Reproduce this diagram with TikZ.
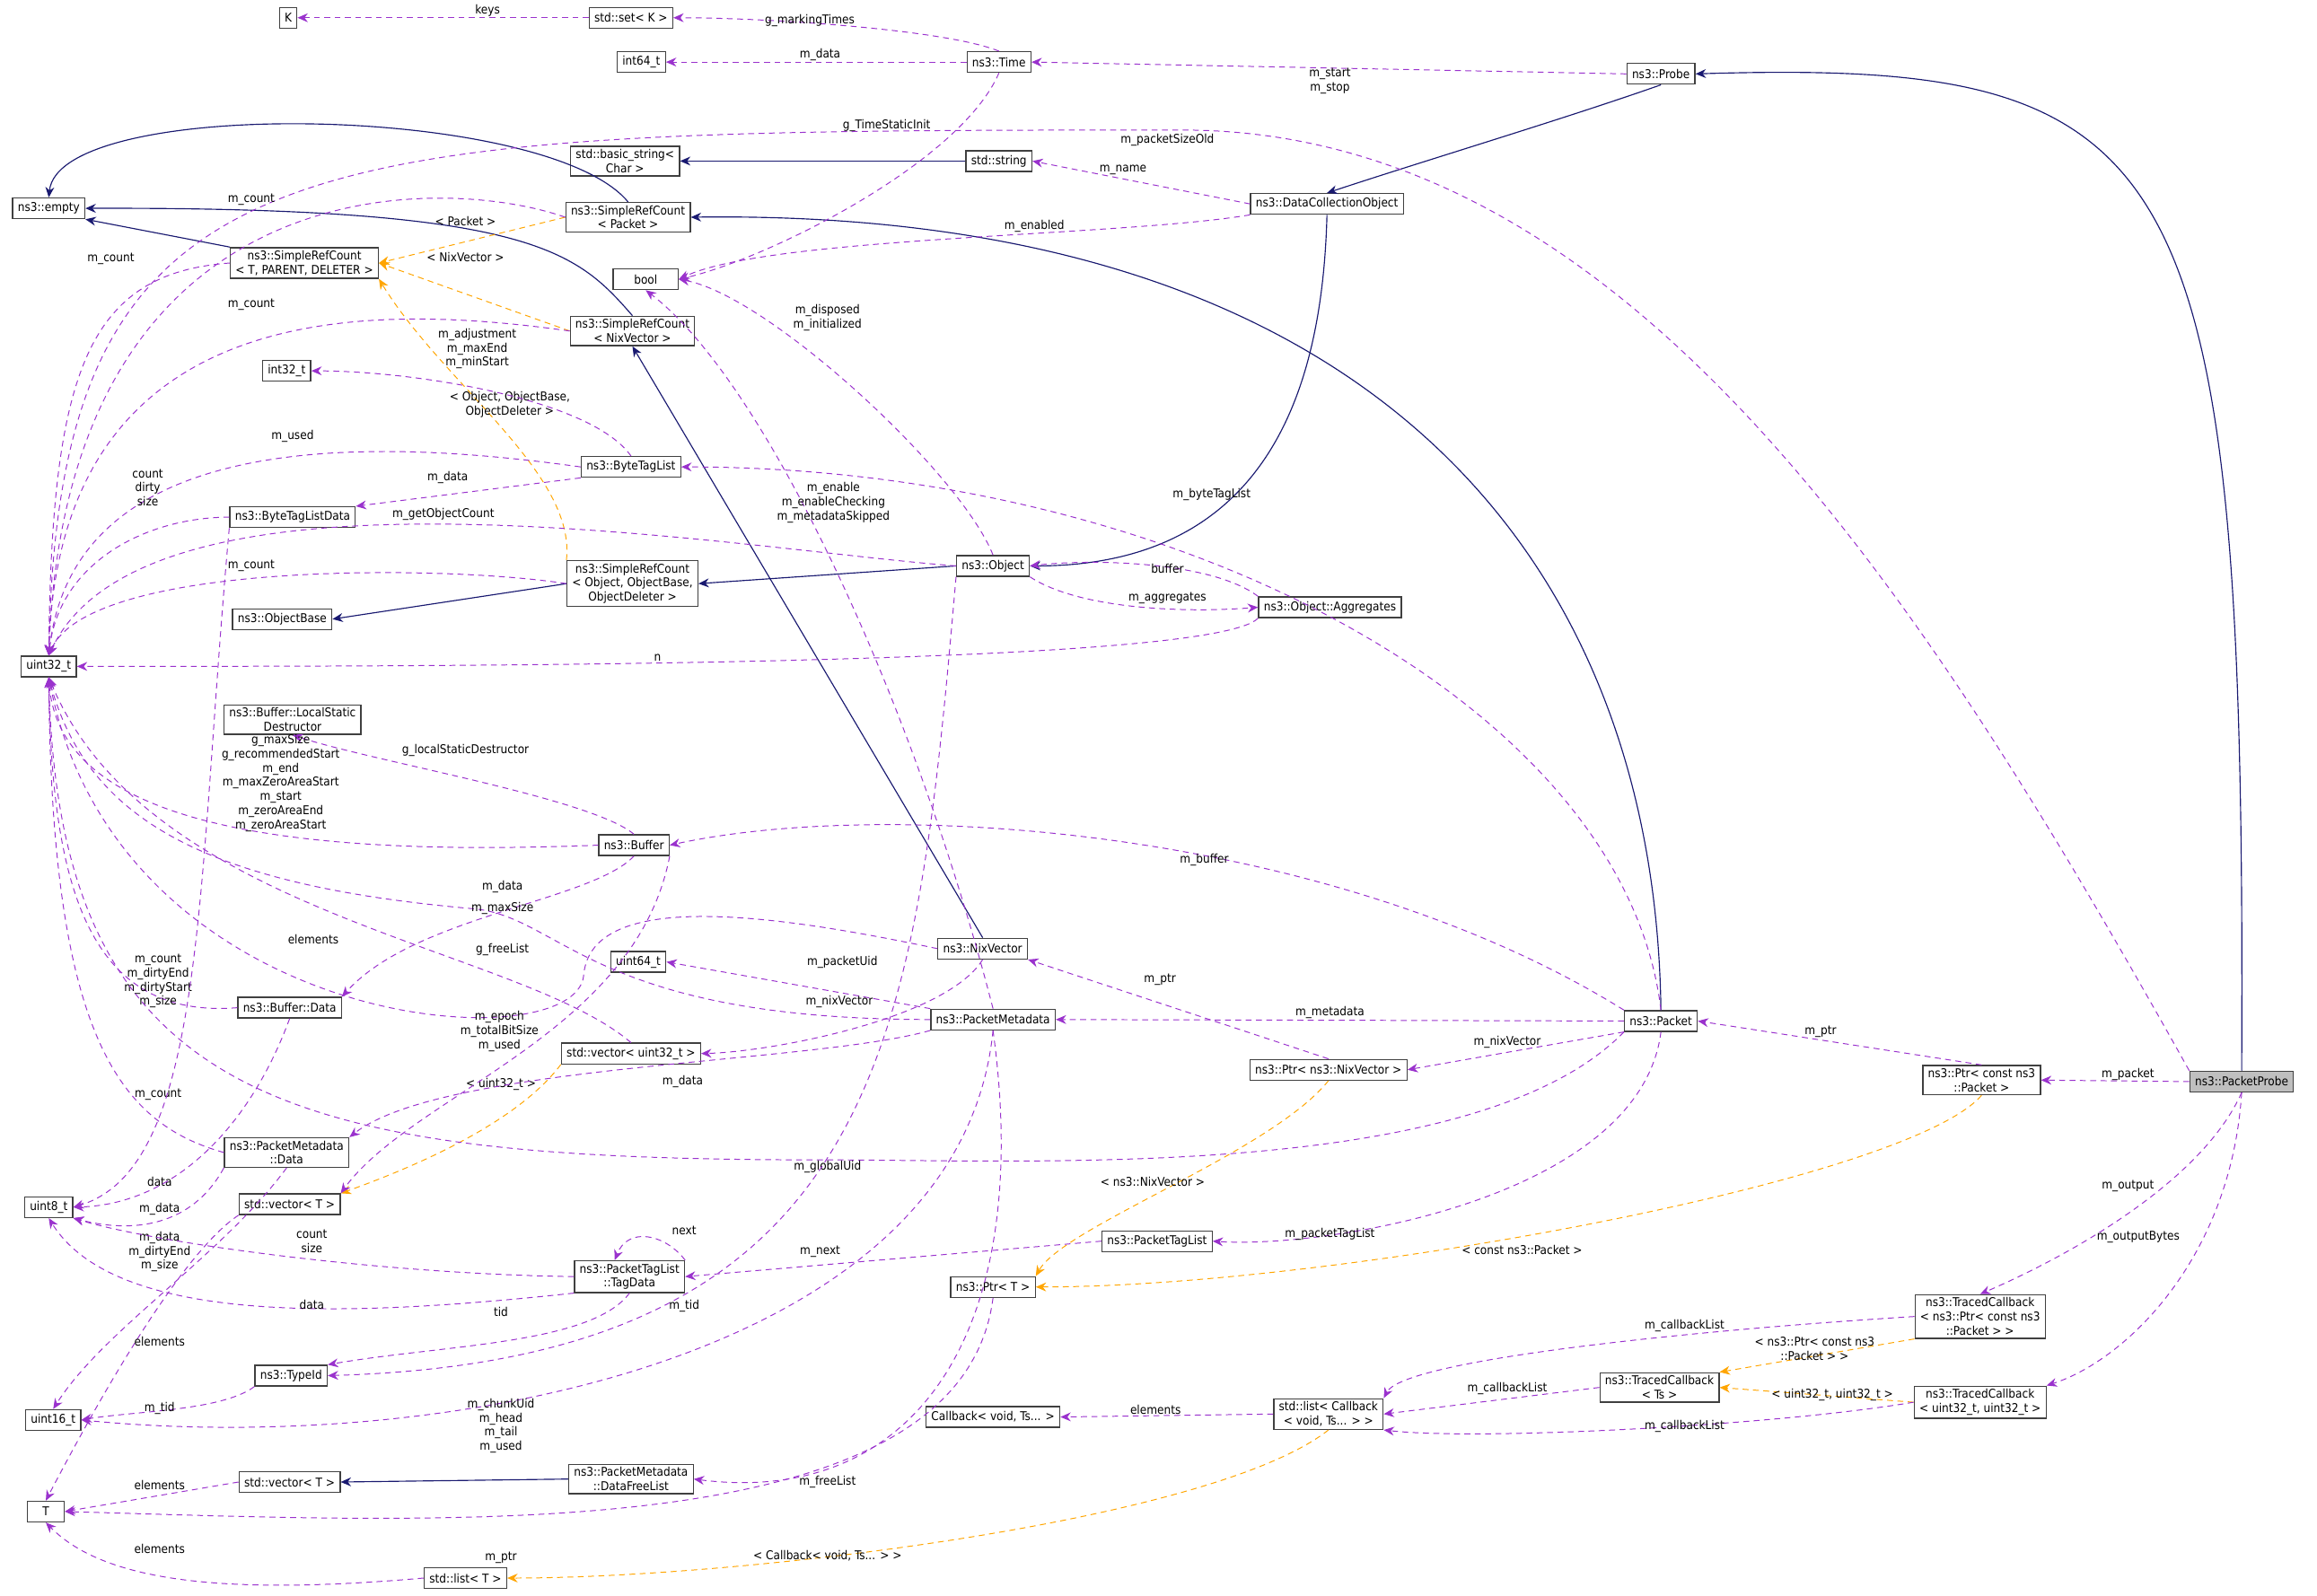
\documentclass[tikz,border=0pt]{standalone}
\usepackage{fontspec}
\setmainfont{DejaVu Sans Condensed}
\usetikzlibrary{arrows.meta}
\definecolor{navy}{HTML}{191970}
\definecolor{orch}{HTML}{9A32CD}
\definecolor{orng}{HTML}{FFA500}
\tikzset{
 cls/.style={draw=black!75,line width=0.8pt,fill=white,font=\fontsize{8.2}{9.6}\selectfont,inner xsep=3.5pt,inner ysep=2pt,align=center,minimum height=14pt},
 lbl/.style={font=\fontsize{8.2}{9.6}\selectfont,align=center,inner sep=0pt},
 inh/.style={navy,line width=0.7pt,-{Stealth[length=7pt,width=6pt]}},
 use/.style={orch,line width=0.6pt,dash pattern=on 4pt off 3pt,-{Stealth[length=7pt,width=6pt]}},
 tpl/.style={orng,line width=0.6pt,dash pattern=on 4pt off 3pt,-{Stealth[length=7pt,width=6pt]}},
}
\begin{document}
\begin{tikzpicture}[x=1pt,y=-1pt]
\useasboundingbox (0,0) rectangle (1568,1080);
% nodes
\node[cls] (k) at (195,12) {K};
\node[cls] (setk) at (427,12) {std::set< K >};
\node[cls] (i64) at (434,42) {int64\_t};
\node[cls] (time) at (676,42) {ns3::Time};
\node[cls] (probe) at (1124,50) {ns3::Probe};
\node[cls] (bstr) at (423,109) {std::basic\_string<\\Char >};
\node[cls] (str) at (676,109) {std::string};
\node[cls] (empty) at (33,141) {ns3::empty};
\node[cls] (srcp) at (425,147) {ns3::SimpleRefCount\\< Packet >};
\node[cls] (dco) at (898,138) {ns3::DataCollectionObject};
\node[cls] (srct) at (206,178) {ns3::SimpleRefCount\\< T, PARENT, DELETER >};
\node[cls,minimum width=44pt] (bool) at (437,189) {bool};
\node[cls] (srcn) at (428,224) {ns3::SimpleRefCount\\< NixVector >};
\node[cls] (i32) at (194,251) {int32\_t};
\node[cls] (btl) at (427,316) {ns3::ByteTagList};
\node[cls] (btld) at (198,350) {ns3::ByteTagListData};
\node[cls] (obj) at (672,383) {ns3::Object};
\node[cls] (srco) at (428,395) {ns3::SimpleRefCount\\< Object, ObjectBase,\\ObjectDeleter >};
\node[cls] (agg) at (900,411) {ns3::Object::Aggregates};
\node[cls] (objb) at (191,419) {ns3::ObjectBase};
\node[cls] (ui32) at (33,451) {uint32\_t};
\node[cls] (lsd) at (198,487) {ns3::Buffer::LocalStatic\\Destructor};
\node[cls] (buf) at (429,572) {ns3::Buffer};
\node[cls] (nix) at (665,642) {ns3::NixVector};
\node[cls] (ui64) at (432,651) {uint64\_t};
\node[cls] (pmd) at (672,690) {ns3::PacketMetadata};
\node[cls] (bufd) at (196,682) {ns3::Buffer::Data};
\node[cls] (vecu) at (427,713) {std::vector< uint32\_t >};
\node[cls] (packet) at (1124,691) {ns3::Packet};
\node[cls] (ptrn) at (899,724) {ns3::Ptr< ns3::NixVector >};
\node[cls] (ptrp) at (1341,731) {ns3::Ptr< const ns3\\::Packet >};
\node[cls,fill=black!25] (pp) at (1517,732) {ns3::PacketProbe};
\node[cls] (pmdd) at (194,780) {ns3::PacketMetadata\\::Data};
\node[cls] (ui8) at (33,817) {uint8\_t};
\node[cls] (vect) at (196,815) {std::vector< T >};
\node[cls] (ptl) at (783,840) {ns3::PacketTagList};
\node[cls] (tagd) at (426,864) {ns3::PacketTagList\\::TagData};
\node[cls] (ptrt) at (672,871) {ns3::Ptr< T >};
\node[cls] (tcp) at (1340,891) {ns3::TracedCallback\\< ns3::Ptr< const ns3\\::Packet > >};
\node[cls] (tid) at (197,931) {ns3::TypeId};
\node[cls] (tcts) at (1123,939) {ns3::TracedCallback\\< Ts >};
\node[cls] (lcb) at (899,957) {std::list< Callback\\< void, Ts... > >};
\node[cls] (tcu) at (1340,949) {ns3::TracedCallback\\< uint32\_t, uint32\_t >};
\node[cls] (cb) at (672,959) {Callback< void, Ts... >};
\node[cls] (ui16) at (36,961) {uint16\_t};
\node[cls] (dfl) at (427,1001) {ns3::PacketMetadata\\::DataFreeList};
\node[cls] (vec2) at (196,1003) {std::vector< T >};
\node[cls,minimum width=25pt] (tt) at (31,1023) {T};
\node[cls] (listt) at (315,1068) {std::list< T >};

% inheritance
\draw[inh] (pp.north) .. controls (1520,100) and (1480,40) .. (probe.east);
\draw[inh] (probe.south) .. controls (1060,80) and (960,110) .. (dco.north);
\draw[inh] (str) -- (bstr);
\draw[inh] (dco.south) .. controls (895,260) and (860,383) .. (obj.east);
\draw[inh] (obj.west) -- (srco.east);
\draw[inh] (srco.west) -- (objb.east);
\draw[inh] (srcp.north) .. controls (370,70) and (40,65) .. (empty.north);
\draw[inh] (srct.north west) -- (empty.south east);
\draw[inh] (srcn.north) .. controls (390,170) and (360,140) .. (empty.east);
\draw[inh] (packet.north) .. controls (1120,380) and (930,141) .. (srcp.east);
\draw[inh] (nix.north) -- (srcn.south);
\draw[inh] (dfl.west) -- (vec2.east);

% templates
\draw[tpl] (srcp.west) -- (srct.east);
\node[lbl] (l1) at (315,150) {< Packet >};
\draw[tpl] (srcn.west) -- (srct.east);
\node[lbl] (l2) at (315,174) {< NixVector >};
\draw[tpl] (srco.north west) .. controls (390,320) and (300,260) .. (srct.south east);
\node[lbl] (l3) at (345,274) {< Object, ObjectBase,\\ObjectDeleter >};
\draw[tpl] (vecu.south west) .. controls (350,760) and (280,790) .. (vect.north east);
\node[lbl] (l4) at (339,734) {< uint32\_t >};
\draw[tpl] (ptrn.south) .. controls (860,780) and (720,830) .. (ptrt.north east);
\node[lbl] (l5) at (780,800) {< ns3::NixVector >};
\draw[tpl] (ptrp.south) .. controls (1290,800) and (900,871) .. (ptrt.east);
\node[lbl] (l6) at (1030,846) {< const ns3::Packet >};
\draw[tpl] (tcp.south west) -- (tcts.north east);
\node[lbl] (l7) at (1228,913) {< ns3::Ptr< const ns3\\::Packet > >};
\draw[tpl] (tcu.west) -- (tcts.east);
\node[lbl] (l8) at (1240,944) {< uint32\_t, uint32\_t >};
\draw[tpl] (lcb.south) .. controls (820,1030) and (500,1068) .. (listt.east);
\node[lbl] (l9) at (560,1053) {< Callback< void, Ts... > >};

% usage
\draw[use] (setk.west) -- (k.east);
\node[lbl] (lb1) at (330,7) {keys};
\draw[use] (time.north) .. controls (640,20) and (520,12) .. (setk.east);
\node[lbl] (lb2) at (548,14) {g\_markingTimes};
\draw[use] (time.west) -- (i64.east);
\node[lbl] (lb3) at (555,37) {m\_data};
\draw[use] (probe.west) -- (time.east);
\node[lbl] (lb4) at (900,55) {m\_start\\m\_stop};
\draw[use] (time.south) .. controls (650,110) and (520,175) .. (bool.east);
\node[lbl] (lb5) at (600,85) {g\_TimeStaticInit};
\draw[use] (pp.north west) .. controls (1300,400) and (1100,88) .. (800,88) .. controls (200,88) and (40,90) .. (ui32.north);
\node[lbl] (lb6) at (790,95) {m\_packetSizeOld};
\draw[use] (dco.west) -- (str.east);
\node[lbl] (lb7) at (760,115) {m\_name};
\draw[use] (dco.south west) .. controls (760,160) and (520,160) .. (bool.east);
\node[lbl] (lb8) at (700,153) {m\_enabled};
\draw[use] (srcp.west) .. controls (300,118) and (45,110) .. (ui32.north);
\node[lbl] (lb9) at (170,135) {m\_count};
\draw[use] (srct.west) .. controls (60,185) and (35,250) .. (ui32.north);
\node[lbl] (lb10) at (75,175) {m\_count};
\draw[use] (srcn.west) .. controls (250,205) and (40,200) .. (ui32.north);
\node[lbl] (lb11) at (170,206) {m\_count};
\draw[use] (btl.north) .. controls (400,270) and (280,251) .. (i32.east);
\node[lbl] (lb12) at (323,236) {m\_adjustment\\m\_maxEnd\\m\_minStart};
\draw[use] (btl.west) .. controls (250,296) and (50,290) .. (ui32.north);
\node[lbl] (lb13) at (198,295) {m\_used};
\draw[use] (btl.south west) -- (btld.north east);
\node[lbl] (lb14) at (303,323) {m\_data};
\draw[use] (btld.west) .. controls (100,350) and (40,380) .. (ui32.north);
\node[lbl] (lb15) at (100,330) {count\\dirty\\size};
\draw[use] (obj.west) .. controls (500,372) and (100,300) .. (ui32.north);
\node[lbl] (lb16) at (300,348) {m\_getObjectCount};
\draw[use] (srco.west) .. controls (300,382) and (60,380) .. (ui32.north);
\node[lbl] (lb17) at (170,383) {m\_count};
\draw[use] (obj.north) .. controls (650,320) and (520,200) .. (bool.east);
\node[lbl] (lb18) at (560,215) {m\_disposed\\m\_initialized};
\draw[use] (agg.north west) .. controls (820,380) and (740,378) .. (obj.east);
\node[lbl] (lb19) at (790,385) {buffer};
\draw[use] (obj.south east) .. controls (730,412) and (800,415) .. (agg.west);
\node[lbl] (lb20) at (790,405) {m\_aggregates};
\draw[use] (agg.south west) .. controls (820,451) and (300,451) .. (ui32.east);
\node[lbl] (lb21) at (445,445) {n};
\draw[use] (packet.north) .. controls (1100,480) and (800,316) .. (btl.east);
\node[lbl] (lb22) at (820,335) {m\_byteTagList};
\draw[use] (pmd.north) .. controls (620,480) and (520,260) .. (bool.south);
\node[lbl] (lb23) at (564,340) {m\_enable\\m\_enableChecking\\m\_metadataSkipped};
\draw[use] (buf.north) .. controls (400,540) and (250,515) .. (lsd.south);
\node[lbl] (lb24) at (315,508) {g\_localStaticDestructor};
\draw[use] (buf.west) .. controls (200,580) and (40,560) .. (ui32.south);
\node[lbl] (lb25) at (190,530) {g\_maxSize\\g\_recommendedStart\\m\_end\\m\_maxZeroAreaStart\\m\_start\\m\_zeroAreaEnd\\m\_zeroAreaStart};
\draw[use] (packet.north west) .. controls (900,560) and (600,540) .. (buf.east);
\node[lbl] (lb26) at (815,582) {m\_buffer};
\draw[use] (buf.south) .. controls (400,610) and (280,620) .. (bufd.north east);
\node[lbl] (lb27) at (340,600) {m\_data};
\draw[use] (buf.south east) .. controls (430,700) and (280,740) .. (vect.north east);
\node[lbl] (lb28) at (340,643) {g\_freeList};
\draw[use] (pmd.west) .. controls (400,690) and (380,620) .. (320,615) .. controls (150,600) and (60,560) .. (ui32.south);
\node[lbl] (lb29) at (340,615) {m\_maxSize};
\draw[use] (vecu.north) .. controls (350,640) and (100,620) .. (ui32.south);
\node[lbl] (lb30) at (212,636) {elements};
\draw[use] (nix.west) .. controls (530,620) and (400,600) .. (395,660) .. controls (390,720) and (80,700) .. (ui32.south);
\node[lbl] (lb31) at (338,698) {m\_epoch\\m\_totalBitSize\\m\_used};
\draw[use] (bufd.west) .. controls (60,690) and (35,600) .. (ui32.south);
\node[lbl] (lb32) at (107,664) {m\_count\\m\_dirtyEnd\\m\_dirtyStart\\m\_size};
\draw[use] (pmd.north west) -- (ui64.east);
\node[lbl] (lb33) at (570,651) {m\_packetUid};
\draw[use] (nix.south) .. controls (640,690) and (520,712) .. (vecu.east);
\node[lbl] (lb34) at (568,678) {m\_nixVector};
\draw[use] (packet.west) -- (pmd.east);
\node[lbl] (lb35) at (900,685) {m\_metadata};
\draw[use] (packet.south west) -- (ptrn.east);
\node[lbl] (lb36) at (1020,705) {m\_nixVector};
\draw[use] (ptrn.north) -- (nix.south east);
\node[lbl] (lb37) at (785,663) {m\_ptr};
\draw[use] (ptrp.north) -- (packet.east);
\node[lbl] (lb38) at (1232,698) {m\_ptr};
\draw[use] (pp.west) -- (ptrp.east);
\node[lbl] (lb39) at (1440,727) {m\_packet};
\draw[use] (pmd.south west) .. controls (550,720) and (300,720) .. (pmdd.north east);
\node[lbl] (lb40) at (462,732) {m\_data};
\draw[use] (pmdd.west) .. controls (80,760) and (35,700) .. (ui32.south);
\node[lbl] (lb41) at (107,741) {m\_count};
\draw[use] (packet.south west) .. controls (1000,800) and (700,785) .. (560,785) .. controls (200,785) and (40,750) .. (ui32.south);
\node[lbl] (lb42) at (560,790) {m\_globalUid};
\draw[use] (packet.south) .. controls (1110,810) and (900,845) .. (ptl.east);
\node[lbl] (lb43) at (900,835) {m\_packetTagList};
\draw[use] (ptl.west) -- (tagd.east);
\node[lbl] (lb44) at (555,847) {m\_next};
\draw[use] (tagd.north east) .. controls (450,835) and (425,830) .. ([xshift=-10pt]tagd.north);
\node[lbl] (lb45) at (463,833) {next};
\draw[use] (btld.south west) .. controls (133,600) and (140,790) .. (ui8.east);
\node[lbl] (lb46) at (108,800) {data};
\draw[use] (bufd.south) .. controls (170,760) and (120,815) .. (ui8.east);
\node[lbl] (lb47) at (108,818) {m\_data};
\draw[use] (pmdd.south west) .. controls (130,830) and (90,835) .. (ui8.south east);
\node[lbl] (lb48) at (108,838) {m\_data};
\draw[use] (tagd.west) .. controls (250,862) and (100,840) .. (ui8.south east);
\node[lbl] (lb49) at (211,840) {count\\size};
\draw[use] (pmdd.south) .. controls (150,850) and (70,900) .. (ui16.north);
\node[lbl] (lb50) at (108,852) {m\_dirtyEnd\\m\_size};
\draw[use] (tagd.south west) .. controls (250,890) and (80,900) .. (ui8.south);
\node[lbl] (lb51) at (211,883) {data};
\draw[use] (tagd.south) .. controls (400,910) and (300,910) .. (tid.north east);
\node[lbl] (lb52) at (339,888) {tid};
\draw[use] (obj.south west) .. controls (620,700) and (600,920) .. (tid.east);
\node[lbl] (lb53) at (463,884) {m\_tid};
\draw[use] (tid.south west) .. controls (150,955) and (90,955) .. (ui16.east);
\node[lbl] (lb54) at (108,953) {m\_tid};
\draw[use] (pmd.south) .. controls (650,920) and (300,985) .. (ui16.east);
\node[lbl] (lb55) at (339,965) {m\_chunkUid\\m\_head\\m\_tail\\m\_used};
\draw[use] (vect.south west) .. controls (120,850) and (60,960) .. (tt.north);
\node[lbl] (lb56) at (108,908) {elements};
\draw[use] (vec2.west) -- (tt.east);
\node[lbl] (lb57) at (108,1005) {elements};
\draw[use] (ptrt.south) .. controls (650,1050) and (300,1030) .. (tt.east);
\node[lbl] (lb58) at (339,1054) {m\_ptr};
\draw[use] (listt.west) .. controls (150,1080) and (70,1070) .. (tt.south);
\node[lbl] (lb59) at (108,1048) {elements};
\draw[use] (pmd.south) .. controls (700,900) and (620,1020) .. (dfl.east);
\node[lbl] (lb60) at (560,1003) {m\_freeList};
\draw[use] (pp.south) .. controls (1490,800) and (1400,850) .. (tcp.north);
\node[lbl] (lb61) at (1440,803) {m\_output};
\draw[use] (pp.south) .. controls (1510,850) and (1440,920) .. (tcu.north east);
\node[lbl] (lb62) at (1447,837) {m\_outputBytes};
\draw[use] (tcp.west) .. controls (1150,900) and (950,920) .. (lcb.north east);
\node[lbl] (lb63) at (1140,897) {m\_callbackList};
\draw[use] (tcts.west) -- (lcb.east);
\node[lbl] (lb64) at (1020,940) {m\_callbackList};
\draw[use] (tcu.west) .. controls (1200,965) and (1000,975) .. (lcb.south east);
\node[lbl] (lb65) at (1140,965) {m\_callbackList};
\draw[use] (lcb.west) -- (cb.east);
\node[lbl] (lb66) at (782,954) {elements};
\end{tikzpicture}
\end{document}
